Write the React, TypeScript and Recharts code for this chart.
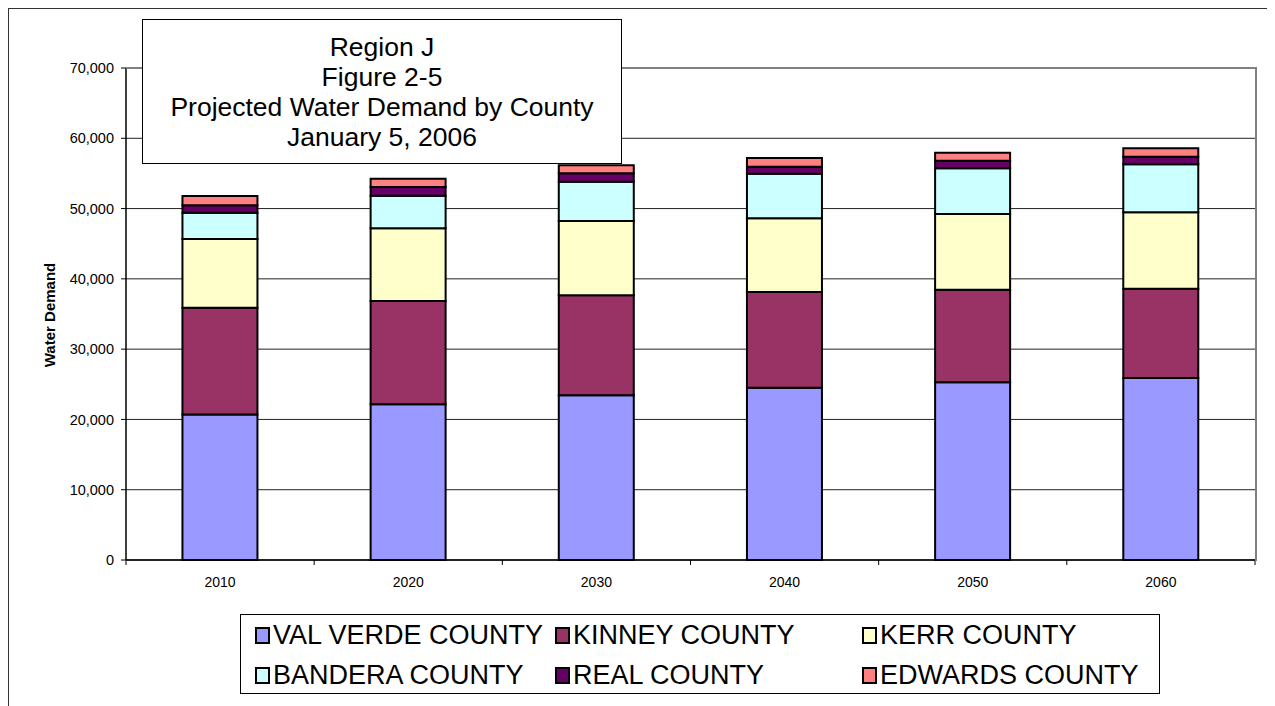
import { BarChart, Bar, XAxis, YAxis, CartesianGrid } from 'recharts';

// values (acre-feet)
const years = ['2010', '2020', '2030', '2040', '2050', '2060'];
const valVerde = [20700, 22150, 23430, 24520, 25280, 25900];
const kinney = [15200, 14700, 14230, 13610, 13180, 12700];
const kerr = [9770, 10340, 10570, 10480, 10770, 10870];
const bandera = [3730, 4640, 5600, 6360, 6500, 6830];
const real = [1060, 1240, 1190, 990, 1080, 1080];
const edwards = [1330, 1180, 1130, 1240, 1140, 1190];
const yTicks = [0, 10000, 20000, 30000, 40000, 50000, 60000, 70000];
const titleLines = ['Region J', 'Figure 2-5', 'Projected Water Demand by County', 'January 5, 2006'];

const series = [
  { key: 'vv', name: 'VAL VERDE COUNTY', values: valVerde, color: '#9999FF' },
  { key: 'kinney', name: 'KINNEY COUNTY', values: kinney, color: '#993366' },
  { key: 'kerr', name: 'KERR COUNTY', values: kerr, color: '#FFFFCC' },
  { key: 'bandera', name: 'BANDERA COUNTY', values: bandera, color: '#CCFFFF' },
  { key: 'real', name: 'REAL COUNTY', values: real, color: '#660066' },
  { key: 'edwards', name: 'EDWARDS COUNTY', values: edwards, color: '#FF8080' },
];

const data = years.map((year, i) => {
  const row: Record<string, string | number> = { year };
  series.forEach((s) => (row[s.key] = s.values[i]));
  return row;
});

const FONT = 'Arial, "Liberation Sans", sans-serif';

// x tick: label in the middle of the band, tick marks on the band edges
function YearTick(props: any) {
  const { x, y, payload, index, visibleTicksCount } = props;
  const half = payload.offset || 94;
  const top = y - 8;
  return (
    <g>
      <line x1={x - half} y1={top} x2={x - half} y2={top + 5} stroke="#000" />
      {index === visibleTicksCount - 1 && (
        <line x1={x + half} y1={top} x2={x + half} y2={top + 5} stroke="#000" />
      )}
      <text x={x} y={y + 19} textAnchor="middle" fontSize={14} fontFamily={FONT} fill="#000">
        {payload.value}
      </text>
    </g>
  );
}

export default function App() {
  return (
    <div
      style={{
        position: 'relative',
        width: 1290,
        height: 720,
        border: '1px solid #333',
        background: '#fff',
        fontFamily: FONT,
      }}
    >
      <BarChart
        width={1290}
        height={720}
        data={data}
        barCategoryGap="30%"
        margin={{ top: 59, right: 44, left: 57, bottom: 139 }}
      >
        <CartesianGrid vertical={false} stroke="#222" strokeWidth={1} />
        <XAxis
          dataKey="year"
          height={30}
          axisLine={{ stroke: '#000', strokeWidth: 1.5 }}
          tickLine={false}
          tick={<YearTick />}
          interval={0}
        />
        <YAxis
          width={60}
          domain={[0, 70000]}
          ticks={yTicks}
          interval={0}
          tickFormatter={(v: number) => v.toLocaleString('en-US')}
          tick={{ fontSize: 14.5, fontFamily: FONT, fill: '#000' }}
          tickSize={5}
          tickMargin={7}
          tickLine={{ stroke: '#000' }}
          axisLine={{ stroke: '#000', strokeWidth: 1.5 }}
        />
        {series.map((s) => (
          <Bar
            key={s.key}
            dataKey={s.key}
            name={s.name}
            stackId="a"
            fill={s.color}
            stroke="#000"
            strokeWidth={2}
            isAnimationActive={false}
          />
        ))}
      </BarChart>

      {/* plot area frame: grey top and right edges */}
      <div
        style={{
          position: 'absolute',
          left: 117,
          top: 58,
          width: 1129,
          height: 492,
          borderTop: '2px solid #808080',
          borderRight: '2px solid #808080',
          pointerEvents: 'none',
        }}
      />

      <div
        style={{
          position: 'absolute',
          left: 40,
          top: 306,
          transform: 'translate(-50%, -50%) rotate(-90deg)',
          fontSize: 15,
          fontWeight: 'bold',
          whiteSpace: 'nowrap',
        }}
      >
        Water Demand
      </div>

      <div
        style={{
          position: 'absolute',
          left: 133,
          top: 10,
          width: 480,
          height: 145,
          boxSizing: 'border-box',
          border: '1.5px solid #000',
          background: '#fff',
          display: 'flex',
          flexDirection: 'column',
          justifyContent: 'center',
          alignItems: 'center',
          fontSize: 26.5,
          lineHeight: '30px',
        }}
      >
        {titleLines.map((t) => (
          <div key={t}>{t}</div>
        ))}
      </div>

      <div
        style={{
          position: 'absolute',
          left: 231,
          top: 605,
          width: 920,
          height: 80,
          boxSizing: 'border-box',
          border: '1px solid #000',
          background: '#fff',
          display: 'grid',
          gridTemplateColumns: '300px 307px 300px',
          gridTemplateRows: '40px 40px',
          paddingLeft: 14,
          alignItems: 'center',
          fontSize: 27,
        }}
      >
        {series.map((s) => (
          <div key={s.key} style={{ display: 'flex', alignItems: 'center', whiteSpace: 'nowrap' }}>
            <span
              style={{
                display: 'inline-block',
                width: 11,
                height: 13,
                background: s.color,
                border: '2px solid #000',
                marginRight: 3,
              }}
            />
            {s.name}
          </div>
        ))}
      </div>
    </div>
  );
}
